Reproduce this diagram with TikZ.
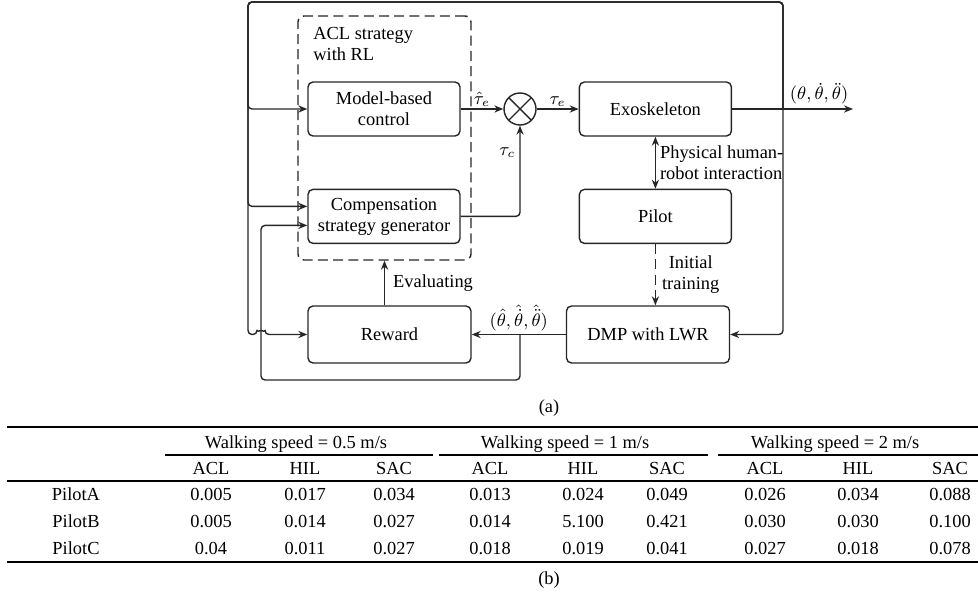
\documentclass[tikz,border=0pt]{standalone}
\usepackage{fontspec}
\setmainfont{Liberation Serif}
\usetikzlibrary{positioning,arrows.meta}
\tikzstyle{block} = [rectangle,
                    rounded corners=2.5pt,
                    align=center,
                    draw=black!85,
                    line width=0.7pt,
                    minimum width=76pt,
                    minimum height=27pt,
                    inner sep=1pt]
\tikzstyle{wideblock} = [block,
                    minimum width=81.5pt,
                    minimum height=28.5pt]
\tikzstyle{groupbox} = [rectangle,
                    rounded corners=3pt,
                    draw=black!85,
                    line width=0.7pt,
                    dash pattern=on 5pt off 2.6pt,
                    minimum width=86.5pt,
                    minimum height=122pt]
\tikzstyle{junction} = [circle,
                    draw=black!85,
                    line width=0.7pt,
                    minimum size=16pt,
                    inner sep=0pt,
                    path picture={\draw[line width=0.7pt]
                      (path picture bounding box.north west) -- (path picture bounding box.south east)
                      (path picture bounding box.north east) -- (path picture bounding box.south west);}]
\tikzstyle{link} = [draw=black!85,
                    line width=0.7pt,
                    rounded corners=2pt]
\tikzstyle{cell} = [anchor=base, inner sep=0pt]
\tikzstyle{diagram} = [x=0.5pt, y=-0.5pt,
                      >={Stealth[length=4.5pt,width=3.6pt]},
                      font=\fontsize{9.2}{10.5}\selectfont,
                      node distance=26pt]

\begin{document}
\begin{tikzpicture}[diagram]
    \useasboundingbox (0,0) rectangle (978,604);
    % block diagram
    \node (acl) [groupbox] at (384.5,138) {};
    \node (acltext) [anchor=north west, align=left, inner sep=0pt] at (313,27) {ACL strategy\\with RL};
    \node (model) [block] at (384,109) {Model-based\\control};
    \node (comp) [block, below =of model] {Compensation\\strategy generator};
    \node (sum) [junction] at (520,109) {};
    \node (exo) [block, right =21pt of sum] {Exoskeleton};
    \node (pilot) [block, below =of exo] {Pilot};
    \node (dmp) [wideblock] at (648,334.5) {DMP with LWR};
    \node (reward) [wideblock] at (389.5,334.5) {Reward};
    \coordinate (out) at (853,109);
    \coordinate (junc) at (783,109);
    \coordinate (tl) at (248,2);
    \coordinate (split) at (dmp.west -| sum);
    \coordinate (lowleft) at (261,380);

    \path[link, ->] (model) edge node [above, inner sep=1pt] {$\hat{\tau}_e$} (sum);
    \path[link, ->] (sum) edge node [above, inner sep=1pt] {$\tau_e$} (exo);
    \draw[link, ->] (comp.east) -| node [pos=0.85, left, inner sep=2pt] {$\tau_c$} (sum.south);
    \draw[link, ->] (exo.east) -- (out) node [anchor=south east, inner sep=2pt] {$(\theta, \dot{\theta}, \ddot{\theta})$};
    \draw[link, <->] (exo.south) -- node [right, align=left, inner sep=2pt] {Physical human-\\robot interaction} (pilot.north);
    \draw[link, ->, dashed, dash pattern=on 5pt off 2.6pt] (pilot.south) -- node [right, align=center, inner sep=3pt] {Initial\\training} (pilot.south |- dmp.north);
    \draw[link, ->] (dmp.west) -- node [above, inner sep=1.5pt] {$(\hat{\theta}, \hat{\dot{\theta}}, \hat{\ddot{\theta}})$} (reward.east);
    \draw[link, ->] (reward.north -| acl.south) -- node [right, inner sep=4pt] {Evaluating} (acl.south);
    % feedback lines
    \draw[link, ->] (junc) |- (dmp.east);
    \draw[link, ->] (junc) |- (tl) |- (model.west);
    \draw[link, ->] (junc) |- (tl) |- ([yshift=5pt]comp.west);
    \draw[link, ->] (junc) |- (tl) -- (tl |- reward.west) -- ++(9,0) arc[start angle=180, end angle=0, radius=2pt] -- (reward.west);
    \draw[link, ->] (split) |- (lowleft) |- ([yshift=-4.5pt]comp.west);

    \node (capa) [cell] at (549,412) {(a)};

    % table
    \draw[line width=1.3pt] (7,427) -- (978,427);
    \draw[line width=0.9pt] (165,455) -- (433,455);
    \draw[line width=0.9pt] (439,455) -- (708,455);
    \draw[line width=0.9pt] (718,455) -- (978,455);
    \draw[line width=1pt] (7,481) -- (978,481);
    \draw[line width=1.3pt] (7,562) -- (978,562);

    \node (speedA) [cell] at (296,448) {Walking speed = 0.5 m/s};
    \node (speedB) [cell] at (565,448) {Walking speed = 1 m/s};
    \node (speedC) [cell] at (835,448) {Walking speed = 2 m/s};

    \node (aclA) [cell] at (211,474) {ACL};
    \node (hilA) [cell] at (305,474) {HIL};
    \node (sacA) [cell] at (394,474) {SAC};
    \node (aclB) [cell] at (490,474) {ACL};
    \node (hilB) [cell] at (583,474) {HIL};
    \node (sacB) [cell] at (667,474) {SAC};
    \node (aclC) [cell] at (765,474) {ACL};
    \node (hilC) [cell] at (858,474) {HIL};
    \node (sacC) [cell] at (950,474) {SAC};

    \node (pilotA) [cell] at (76,500) {PilotA};
    \node (a1) [cell] at (211,500) {0.005};
    \node (a2) [cell] at (305,500) {0.017};
    \node (a3) [cell] at (394,500) {0.034};
    \node (a4) [cell] at (490,500) {0.013};
    \node (a5) [cell] at (583,500) {0.024};
    \node (a6) [cell] at (667,500) {0.049};
    \node (a7) [cell] at (765,500) {0.026};
    \node (a8) [cell] at (858,500) {0.034};
    \node (a9) [cell] at (950,500) {0.088};

    \node (pilotB) [cell] at (76,527) {PilotB};
    \node (b1) [cell] at (211,527) {0.005};
    \node (b2) [cell] at (305,527) {0.014};
    \node (b3) [cell] at (394,527) {0.027};
    \node (b4) [cell] at (490,527) {0.014};
    \node (b5) [cell] at (583,527) {5.100};
    \node (b6) [cell] at (667,527) {0.421};
    \node (b7) [cell] at (765,527) {0.030};
    \node (b8) [cell] at (858,527) {0.030};
    \node (b9) [cell] at (950,527) {0.100};

    \node (pilotC) [cell] at (76,554) {PilotC};
    \node (c1) [cell] at (211,554) {0.04};
    \node (c2) [cell] at (305,554) {0.011};
    \node (c3) [cell] at (394,554) {0.027};
    \node (c4) [cell] at (490,554) {0.018};
    \node (c5) [cell] at (583,554) {0.019};
    \node (c6) [cell] at (667,554) {0.041};
    \node (c7) [cell] at (765,554) {0.027};
    \node (c8) [cell] at (858,554) {0.018};
    \node (c9) [cell] at (950,554) {0.078};

    \node (capb) [cell] at (549,584) {(b)};
  \end{tikzpicture}
\end{document}
